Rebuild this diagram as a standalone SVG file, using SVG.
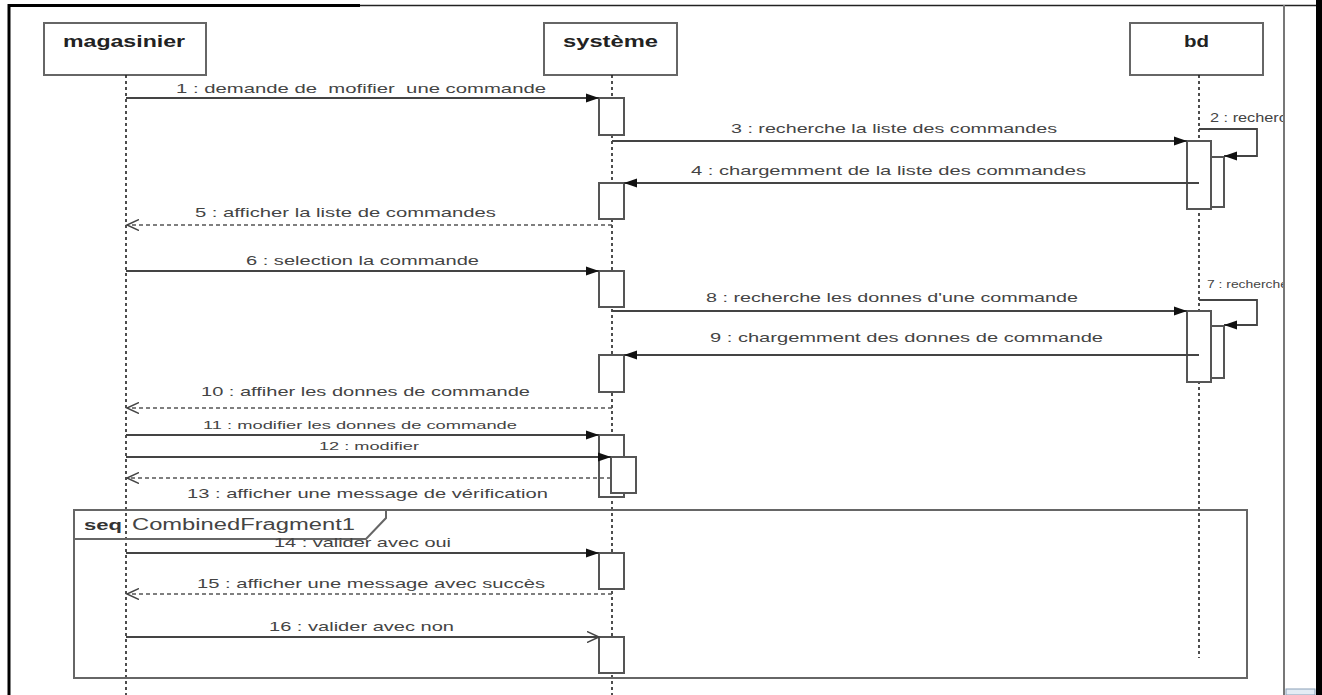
<svg xmlns="http://www.w3.org/2000/svg" width="1322" height="695" viewBox="0 0 1322 695">
  <style>
    .head { fill: #fff; stroke: #666; stroke-width: 2; }
    .htxt { font-family: "Liberation Sans", Arial, sans-serif; font-size: 16px; font-weight: bold; fill: #222; }
    .life { stroke: #222; stroke-width: 1.6; stroke-dasharray: 3 3; fill: none; }
    .act { fill: #fff; stroke: #555; stroke-width: 2; }
    .msg { stroke: #444; stroke-width: 1.8; fill: none; }
    .ret { stroke: #555; stroke-width: 1.6; stroke-dasharray: 4 3; fill: none; }
    .lbl { font-family: "Liberation Sans", Arial, sans-serif; font-size: 13px; fill: #444; }
    .sm { font-size: 11px; }
    .frag { fill: none; stroke: #666; stroke-width: 2; }
  </style>
  <defs>
    <marker id="filled" markerUnits="userSpaceOnUse" markerWidth="14" markerHeight="10" refX="13" refY="5" orient="auto">
      <path d="M0,0.5 L13,5 L0,9.5 z" fill="#111"/>
    </marker>
    <marker id="open" markerUnits="userSpaceOnUse" markerWidth="14" markerHeight="12" refX="12" refY="6" orient="auto">
      <path d="M0,0.5 L12,6 L0,11.5" fill="none" stroke="#444" stroke-width="1.5"/>
    </marker>
    <clipPath id="panel">
      <rect x="0" y="0" width="1283" height="695"/>
    </clipPath>
  </defs>

  <rect x="0" y="0" width="1322" height="695" fill="#fff"/>

  <!-- window frame -->
  <g id="frame">
    <line x1="8" y1="5.5" x2="1320" y2="5.5" stroke="#222" stroke-width="1.5"/>
    <line x1="8" y1="5.5" x2="360" y2="5.5" stroke="#000" stroke-width="3"/>
    <line x1="9" y1="4" x2="9" y2="695" stroke="#000" stroke-width="3"/>
    <line x1="1284" y1="5" x2="1284" y2="695" stroke="#777" stroke-width="2"/>
    <rect x="1316" y="0" width="6" height="695" fill="#000"/>
    <rect x="1286" y="689" width="29" height="6" fill="#e4ecf5" stroke="#8aa0b8" stroke-width="1"/>
  </g>

  <!-- lifelines -->
  <g id="magasinier">
    <rect class="head" x="44" y="23" width="162" height="52"/>
    <text class="htxt" x="63" y="47" textLength="122" lengthAdjust="spacingAndGlyphs">magasinier</text>
    <line class="life" x1="126" y1="75" x2="126" y2="695"/>
  </g>
  <g id="systeme">
    <rect class="head" x="544" y="23" width="133" height="52"/>
    <text class="htxt" x="563" y="47" textLength="95" lengthAdjust="spacingAndGlyphs">système</text>
    <line class="life" x1="612" y1="75" x2="612" y2="695"/>
  </g>
  <g id="bd">
    <rect class="head" x="1130" y="23" width="133" height="52"/>
    <text class="htxt" x="1184" y="47" textLength="25" lengthAdjust="spacingAndGlyphs">bd</text>
    <line class="life" x1="1199" y1="75" x2="1199" y2="658"/>
  </g>

  <!-- combined fragment -->
  <g id="fragment">
    <rect class="frag" x="74" y="510" width="1173" height="168"/>
    <path class="frag" d="M74,539 H366 L386,518 V510"/>
    <text class="htxt" x="84" y="530" textLength="38" lengthAdjust="spacingAndGlyphs" style="font-size:15px;fill:#333">seq</text>
    <text x="132" y="530" textLength="223" lengthAdjust="spacingAndGlyphs" style="font-family:'Liberation Sans',Arial,sans-serif;font-size:16px;fill:#444">CombinedFragment1</text>
  </g>

  <!-- activation bars -->
  <g id="activations">
    <rect class="act" x="599" y="98" width="25" height="37"/>
    <rect class="act" x="599" y="183" width="25" height="36"/>
    <rect class="act" x="599" y="271" width="25" height="36"/>
    <rect class="act" x="599" y="355" width="25" height="37"/>
    <rect class="act" x="599" y="435" width="25" height="62"/>
    <rect class="act" x="611" y="457" width="25" height="36"/>
    <rect class="act" x="599" y="553" width="25" height="36"/>
    <rect class="act" x="599" y="637" width="25" height="36"/>
    <rect class="act" x="1187" y="141" width="24" height="68"/>
    <rect class="act" x="1211" y="157" width="13" height="50"/>
    <rect class="act" x="1187" y="311" width="24" height="71"/>
    <rect class="act" x="1211" y="326" width="13" height="52"/>
  </g>

  <!-- messages -->
  <g id="connectors">
    <line class="msg" x1="126" y1="98" x2="599" y2="98" marker-end="url(#filled)"/>
    <path class="msg" d="M1199,129 H1257 V156 H1224" marker-end="url(#filled)"/>
    <line class="msg" x1="612" y1="141" x2="1187" y2="141" marker-end="url(#filled)"/>
    <line class="msg" x1="1199" y1="183" x2="624" y2="183" marker-end="url(#filled)"/>
    <line class="ret" x1="612" y1="225" x2="127" y2="225" marker-end="url(#open)"/>
    <line class="msg" x1="126" y1="271" x2="599" y2="271" marker-end="url(#filled)"/>
    <path class="msg" d="M1199,300 H1257 V325 H1224" marker-end="url(#filled)"/>
    <line class="msg" x1="612" y1="311" x2="1187" y2="311" marker-end="url(#filled)"/>
    <line class="msg" x1="1199" y1="355" x2="624" y2="355" marker-end="url(#filled)"/>
    <line class="ret" x1="612" y1="408" x2="127" y2="408" marker-end="url(#open)"/>
    <line class="msg" x1="126" y1="435" x2="599" y2="435" marker-end="url(#filled)"/>
    <line class="msg" x1="126" y1="457" x2="611" y2="457" marker-end="url(#filled)"/>
    <line class="ret" x1="611" y1="478" x2="127" y2="478" marker-end="url(#open)"/>
    <line class="msg" x1="126" y1="553" x2="599" y2="553" marker-end="url(#filled)"/>
    <line class="ret" x1="612" y1="594" x2="127" y2="594" marker-end="url(#open)"/>
    <line class="msg" x1="126" y1="637" x2="599" y2="637" marker-end="url(#open)"/>
  </g>

  <!-- message labels -->
  <g id="labels">
    <text class="lbl" x="176" y="93" textLength="370" lengthAdjust="spacingAndGlyphs" xml:space="preserve">1 : demande de  mofifier  une commande</text>
    <g clip-path="url(#panel)">
      <text class="lbl" x="1210" y="122" textLength="86" lengthAdjust="spacingAndGlyphs" style="font-size:12px">2 : recherch</text>
      <text class="lbl sm" x="1207" y="288" textLength="81" lengthAdjust="spacingAndGlyphs">7 : recherche</text>
    </g>
    <text class="lbl" x="731" y="133" textLength="326" lengthAdjust="spacingAndGlyphs">3 : recherche la liste des commandes</text>
    <text class="lbl" x="691" y="175" textLength="395" lengthAdjust="spacingAndGlyphs">4 : chargemment de la liste des commandes</text>
    <text class="lbl" x="195" y="217" textLength="301" lengthAdjust="spacingAndGlyphs">5 : afficher la liste de commandes</text>
    <text class="lbl" x="246" y="265" textLength="233" lengthAdjust="spacingAndGlyphs">6 : selection la commande</text>
    <text class="lbl" x="706" y="302" textLength="372" lengthAdjust="spacingAndGlyphs">8 : recherche les donnes d'une commande</text>
    <text class="lbl" x="710" y="342" textLength="393" lengthAdjust="spacingAndGlyphs">9 : chargemment des donnes de commande</text>
    <text class="lbl" x="201" y="396" textLength="329" lengthAdjust="spacingAndGlyphs">10 : affiher les donnes de commande</text>
    <text class="lbl sm" x="203" y="429" textLength="314" lengthAdjust="spacingAndGlyphs">11 : modifier les donnes de commande</text>
    <text class="lbl sm" x="319" y="450" textLength="100" lengthAdjust="spacingAndGlyphs">12 : modifier</text>
    <text class="lbl" x="187" y="498" textLength="361" lengthAdjust="spacingAndGlyphs">13 : afficher une message de vérification</text>
    <text class="lbl" x="274" y="547" textLength="177" lengthAdjust="spacingAndGlyphs">14 : valider avec oui</text>
    <text class="lbl" x="197" y="588" textLength="348" lengthAdjust="spacingAndGlyphs">15 : afficher une message avec succès</text>
    <text class="lbl" x="269" y="631" textLength="185" lengthAdjust="spacingAndGlyphs">16 : valider avec non</text>
  </g>
</svg>
